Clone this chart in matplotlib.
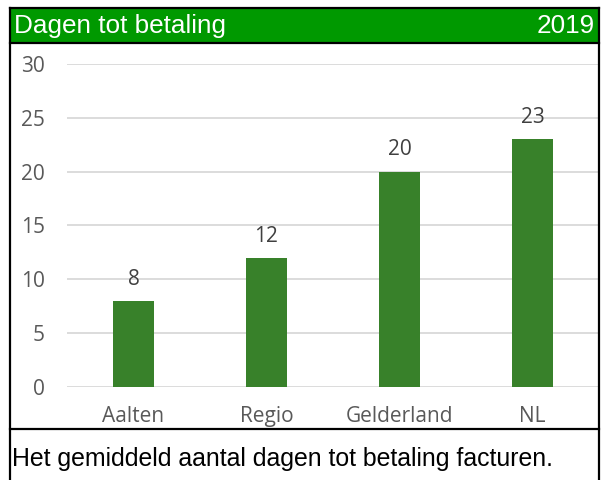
import matplotlib
matplotlib.use("Agg")
import matplotlib.pyplot as plt
from matplotlib.patches import Rectangle
from matplotlib.lines import Line2D

# data
categories = ["Aalten", "Regio", "Gelderland", "NL"]
values = [8, 12, 20, 23]
yticks = [0, 5, 10, 15, 20, 25, 30]
title = "Dagen tot betaling"
year = "2019"
caption = "Het gemiddeld aantal dagen tot betaling facturen."

W, H = 601, 480
fig = plt.figure(figsize=(W / 100, H / 100), dpi=100)

def fx(px):
    return px / W

def fy(py):
    return 1 - py / H

# green title bar
fig.patches.append(Rectangle((fx(10), fy(43)), fx(589), 35 / H,
                             transform=fig.transFigure, facecolor="#009900",
                             edgecolor="none", zorder=0))
fig.text(fx(14), fy(26), title, fontsize=18.8, color="white",
         family="Liberation Sans", va="center", ha="left")
fig.text(fx(595), fy(26), year, fontsize=18.8, color="white",
         family="Liberation Sans", va="center", ha="right")

# black frame lines
for (x0, y0, x1, y1) in [(10, 8, 599, 8), (10, 43, 599, 43), (10, 429, 599, 429),
                         (10.5, 8, 10.5, 480), (599, 8, 599, 480)]:
    fig.add_artist(Line2D([fx(x0), fx(x1)], [fy(y0), fy(y1)], color="black",
                          lw=1.6, transform=fig.transFigure))

fig.text(fx(12), fy(459), caption, fontsize=17.9, color="black",
         family="Liberation Sans", va="center", ha="left")

# chart
ax = fig.add_axes([fx(67), fy(386.7), fx(532), (386.7 - 64) / H])
x = range(len(categories))
bars = ax.bar(x, values, width=0.315, color="#38812a", zorder=3)
ax.set_xlim(-0.5, len(categories) - 0.5)
ax.set_ylim(0, 30)
ax.set_yticks(yticks)
ax.set_xticks(list(x))
ax.set_xticklabels(categories)
ax.yaxis.grid(True, color="#d9d9d9", lw=1.3, zorder=0)
ax.set_axisbelow(True)
for s in ax.spines.values():
    s.set_visible(False)
ax.tick_params(axis="both", length=0, labelsize=15, colors="#595959")
ax.tick_params(axis="y", pad=16)
ax.tick_params(axis="x", pad=14)
for lab in ax.get_xticklabels() + ax.get_yticklabels():
    lab.set_family("Open Sans")

for b, v in zip(bars, values):
    ax.annotate(str(v), (b.get_x() + b.get_width() / 2, v), xytext=(0, 8),
                textcoords="offset points", ha="center", va="bottom",
                fontsize=15, color="#404040", family="Open Sans")

fig.savefig("out.png", dpi=100)
